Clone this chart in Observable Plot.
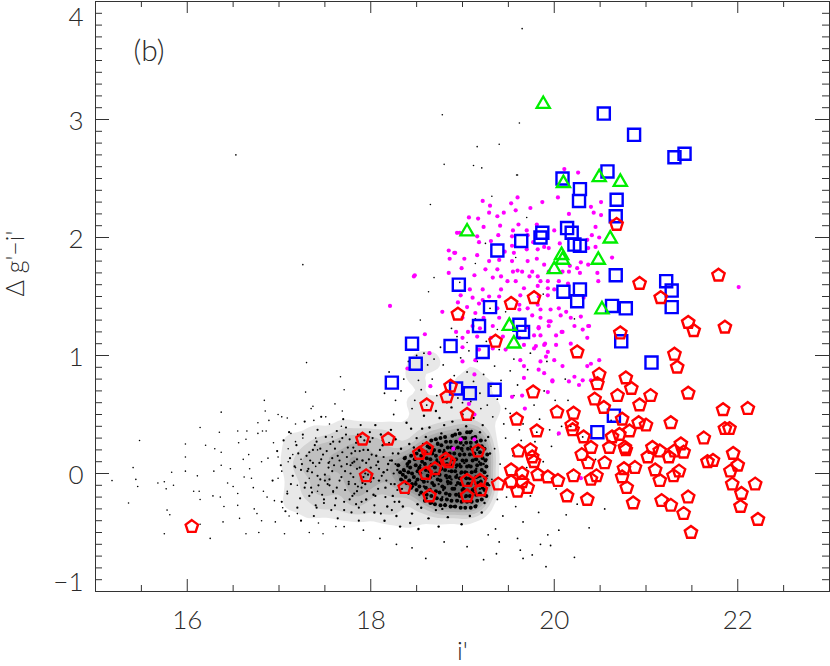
<!DOCTYPE html>
<html><head><meta charset="utf-8">
<script src="https://cdn.jsdelivr.net/npm/d3@7"></script>
<script src="https://cdn.jsdelivr.net/npm/@observablehq/plot@0.6"></script>
<style>
html,body{margin:0;padding:0;background:#fff;}
#chart svg{display:block;}
</style></head><body><div id="chart"></div>
<script>
// ---- axes / labels ----
const xMajor = [16, 18, 20, 22];
const xTickLabels = ["16", "18", "20", "22"];
const yMajor = [-1, 0, 1, 2, 3, 4];
const yTickLabels = ["\u22121", "0", "1", "2", "3", "4"];
const xTitle = "i'";
const yTitle = "\u0394 g'\u2212i'";
const panelLabel = "(b)";

// ---- blue squares ----
const squares = [
[20.54,3.05],[20.87,2.87],[21.31,2.68],[21.42,2.71],[20.09,2.50],[20.58,2.56],[20.28,2.41],[20.27,2.31],
[20.68,2.32],[20.67,2.18],[20.14,2.08],[20.19,2.04],[19.87,2.04],[19.85,2.00],[19.64,1.97],[19.38,1.89],
[20.22,1.94],[20.28,1.93],[20.67,1.68],[18.96,1.60],[20.10,1.54],[20.28,1.56],[20.25,1.46],[20.63,1.42],
[20.78,1.40],[19.30,1.41],[19.18,1.25],[19.62,1.26],[19.66,1.20],[18.45,1.10],[18.87,1.08],[19.22,1.03],
[20.73,1.12],[18.49,0.93],[18.23,0.77],[18.93,0.72],[19.08,0.68],[19.35,0.71],[21.22,1.63],[21.28,1.55],
[21.28,1.41],[21.06,0.94],[20.65,0.49],[20.47,0.35]
];

// ---- green triangles ----
const triangles = [
[19.88,3.13],[20.10,2.46],[20.49,2.51],[20.72,2.47],[19.05,2.05],[20.61,1.99],[20.08,1.85],
[20.09,1.81],[20.00,1.73],[20.48,1.81],[20.52,1.39],[19.51,1.25],[19.56,1.10]
];

// ---- red pentagons ----
const pentagons = [
[16.05,-0.45],[17.91,0.29],[18.19,0.29],[17.95,-0.02],[18.37,-0.12],[18.53,0.17],[18.61,0.21],[18.61,0.58],
[18.70,0.04],[18.60,0.00],[18.64,-0.19],[18.83,0.65],[18.87,0.74],[18.82,0.12],[18.85,0.10],[19.05,0.50],
[19.17,0.19],[19.05,-0.06],[19.19,-0.06],[19.20,-0.14],[19.05,-0.19],[19.39,-0.09],[18.95,1.35],[19.36,1.12],
[19.53,1.44],[19.78,1.49],[19.59,0.46],[19.77,0.69],[19.81,0.36],[19.61,0.19],[19.74,0.20],[19.76,0.14],
[19.78,0.10],[19.53,0.03],[19.65,0.00],[19.53,-0.07],[19.65,-0.07],[19.60,-0.15],[19.71,-0.12],[19.82,-0.01],
[19.93,-0.03],[20.04,-0.06],[20.03,0.52],[20.21,0.51],[20.19,0.41],[20.20,0.37],[20.32,0.31],[20.21,-0.02],
[20.30,0.16],[20.37,0.09],[20.40,0.22],[20.40,-0.05],[20.46,-0.02],[20.14,-0.19],[20.36,-0.22],[20.25,1.03],
[20.49,0.84],[20.47,0.76],[20.44,0.63],[20.54,0.56],[20.69,0.66],[20.78,0.81],[20.84,0.72],[20.72,1.19],
[20.68,2.11],[20.93,1.61],[21.16,1.49],[21.46,1.28],[21.52,1.21],[21.86,1.24],[21.79,1.68],[21.31,1.01],
[21.34,0.90],[21.05,0.66],[20.93,0.58],[21.46,0.68],[20.60,0.22],[20.63,0.31],[20.71,0.33],[20.82,0.36],
[20.74,0.46],[20.92,0.43],[21.00,0.41],[21.27,0.43],[20.77,0.22],[20.78,0.20],[21.07,0.22],[21.15,0.19],
[21.31,0.19],[21.38,0.25],[21.41,0.18],[21.02,0.14],[21.25,0.14],[20.55,0.09],[20.88,0.05],[20.76,0.04],
[20.74,-0.03],[21.10,0.03],[21.36,0.02],[21.30,-0.02],[21.15,-0.06],[20.79,-0.12],[20.86,-0.25],[21.17,-0.23],
[21.27,-0.27],[21.46,-0.20],[21.41,-0.34],[21.49,-0.50],[21.63,0.30],[21.84,0.54],[22.11,0.55],[21.86,0.38],
[21.91,0.38],[21.67,0.10],[21.73,0.11],[21.95,0.17],[22.00,0.07],[21.92,0.02],[21.94,-0.09],[22.04,-0.17],
[22.03,-0.28],[22.19,-0.09],[22.22,-0.39]
];

// ---- magenta points ----
const magentaPts = [
[20.26,2.55],[20.04,2.34],[19.60,2.34],[19.22,2.31],[19.30,2.27],[19.53,2.29],[19.87,2.30],[19.74,2.25],[19.58,2.23],[19.29,2.21],
[19.38,2.18],[19.45,2.21],[19.07,2.17],[19.17,2.16],[20.16,2.20],[20.40,2.26],[20.51,2.30],[20.51,2.19],[20.43,2.21],[20.62,2.14],
[19.41,2.10],[19.61,2.11],[19.81,2.11],[19.70,2.06],[19.55,2.06],[19.23,2.09],[18.97,2.04],[19.16,2.01],[19.39,2.02],[19.54,2.01],
[19.71,2.02],[20.00,2.06],[20.45,2.09],[20.41,2.02],[20.49,2.00],[19.18,1.96],[19.31,1.97],[19.77,1.96],[19.89,1.92],[19.54,1.93],
[20.45,1.92],[20.36,1.98],[18.85,1.89],[18.92,1.87],[19.02,1.82],[18.86,1.82],[19.16,1.85],[19.46,1.88],[19.56,1.87],[19.70,1.90],
[19.82,1.90],[19.94,1.91],[20.06,1.95],[20.37,1.91],[20.63,1.83],[19.29,1.80],[19.54,1.80],[19.40,1.81],[19.71,1.80],[19.81,1.82],
[19.89,1.77],[20.17,1.76],[20.29,1.79],[20.37,1.77],[20.25,1.74],[18.99,1.74],[19.25,1.73],[19.38,1.73],[19.55,1.71],[19.60,1.72],
[19.65,1.71],[19.76,1.71],[19.94,1.71],[20.09,1.71],[20.16,1.71],[20.28,1.70],[20.47,1.70],[18.85,1.70],[18.47,1.67],[19.13,1.68],
[19.42,1.67],[19.73,1.67],[19.82,1.67],[19.33,1.66],[19.49,1.63],[19.58,1.63],[19.85,1.63],[19.93,1.63],[20.05,1.63],[20.15,1.61],
[20.48,1.63],[19.08,1.56],[19.22,1.56],[19.42,1.56],[19.67,1.57],[19.82,1.59],[19.93,1.57],[20.00,1.56],[18.98,1.51],[19.11,1.49],
[19.22,1.47],[19.29,1.50],[19.40,1.50],[19.63,1.51],[19.83,1.50],[19.93,1.51],[20.32,1.49],[18.21,1.42],[18.78,1.37],[18.95,1.45],
[19.05,1.41],[19.18,1.44],[19.38,1.40],[19.62,1.43],[19.71,1.40],[19.82,1.43],[19.85,1.39],[19.96,1.39],[20.05,1.40],[20.13,1.37],
[19.00,1.32],[19.14,1.36],[19.23,1.32],[19.40,1.32],[19.76,1.34],[19.85,1.32],[19.94,1.29],[20.07,1.34],[20.18,1.32],[20.29,1.33],
[19.11,1.25],[19.19,1.23],[19.33,1.25],[19.71,1.24],[19.83,1.24],[19.94,1.25],[20.09,1.20],[20.22,1.25],[20.31,1.22],[20.38,1.25],
[18.59,1.18],[18.93,1.20],[19.06,1.20],[19.00,1.15],[19.16,1.16],[19.31,1.15],[19.44,1.16],[19.62,1.15],[19.78,1.17],[19.85,1.17],
[20.02,1.17],[20.18,1.10],[20.36,1.15],[18.64,1.02],[19.00,1.07],[19.18,1.05],[19.33,1.06],[19.47,1.05],[19.67,1.09],[19.80,1.08],
[19.89,1.09],[20.02,1.09],[19.93,1.03],[19.91,0.99],[18.40,0.89],[19.00,0.95],[19.14,0.96],[19.63,0.96],[19.67,0.91],[19.85,0.95],
[20.00,0.96],[20.09,0.91],[20.40,0.93],[20.49,0.96],[20.36,0.91],[18.65,0.74],[19.13,0.84],[19.67,0.81],[19.83,0.88],[19.89,0.85],
[19.98,0.79],[20.16,0.78],[20.22,0.82],[20.27,0.75],[20.40,0.79],[19.54,0.65],[19.65,0.66],[22.01,1.58],[18.48,1.68],[18.91,1.87],
[18.94,2.04],[20.11,2.58],[19.07,0.59],[19.13,0.50],[18.98,0.29],[19.13,0.29],[18.90,0.21],[19.68,0.55],[19.62,1.39],[19.83,1.23],
[19.96,1.29],[20.08,1.20],[19.90,1.10],[19.78,1.06],[19.98,0.78],[20.31,0.79],[19.93,0.69],[20.05,0.34],[20.29,-0.04],[20.37,1.25]
];

// ---- black points (field stars) ----
const blackLeft = [
[15.18,-0.06],[15.41,0.05],[15.44,-0.05],[15.46,-0.11],[15.36,-0.25],[15.48,0.28],[15.68,-0.08],[15.75,-0.07],[15.77,-0.13],[15.83,0.01],
[15.78,-0.31],[15.81,-0.35],[15.75,-0.51],[15.85,-0.10],[15.98,0.25],[15.98,0.14],[15.98,0.02],[16.07,-0.15],[16.14,0.39],[16.13,-0.15],
[16.14,-0.22],[16.14,-0.43],[16.20,0.24],[16.25,-0.55],[16.30,0.21],[16.37,0.52],[16.35,0.35],[16.37,0.18],[16.37,0.07],[16.11,-0.02],
[16.29,0.02],[16.28,-0.19],[16.36,-0.20],[16.40,-0.28],[16.39,-0.41],[16.47,0.04],[16.44,-0.08],[16.50,-0.11],[16.55,0.36],[16.56,0.26],
[16.55,-0.17],[16.57,-0.38],[16.55,-0.27],[16.61,0.12],[16.62,-0.03],[16.65,0.36],[16.64,0.29],[16.64,-0.51],[16.67,0.16],[16.68,0.04],
[16.70,-0.04],[16.72,-0.12],[16.73,-0.30],[16.76,-0.34],[16.77,0.43],[16.77,0.34],[16.78,-0.50],[16.81,-0.40],[16.84,0.62],[16.85,0.53],
[16.82,0.36],[16.81,0.10],[16.83,-0.15],[16.87,-0.20],[16.89,0.45],[16.86,0.36],[16.88,0.13],[16.94,0.26],[16.95,-0.23],[16.96,-0.41],
[16.99,0.50],[17.03,0.48],[16.99,0.14],[16.99,-0.04],[17.03,0.02],[17.04,-0.29],[17.06,-0.51],[17.09,0.47],[17.10,0.21],[17.10,0.10],
[17.09,-0.15],[17.11,-0.36],[17.13,0.34],[17.15,0.16],[17.18,0.42],[17.18,0.27],[17.18,0.05],[17.20,-0.10],[17.20,-0.34],[17.24,0.12],
[17.26,0.30],[17.29,0.69],[17.30,0.94],[17.33,-0.04],[17.33,-0.50],[17.37,0.57],[17.35,0.55],[17.38,0.45],[17.40,0.30],[17.42,0.20],
[17.40,0.06],[17.42,-0.15],[17.43,-0.42],[17.48,-0.51],[17.51,0.48],[17.55,0.42],[17.58,0.31],[17.55,0.10],[17.59,-0.16],[17.61,0.59],
[17.62,-0.45],[17.67,0.82],[17.68,0.40],[17.69,0.53],[17.71,0.71]
];
const blackMid = [
[17.02,0.07],[17.35,-0.12],[17.61,0.21],[17.15,-0.02],[17.48,0.16],[17.83,-0.09],[17.26,0.33],[17.71,-0.24],[17.09,-0.17],[17.54,0.05],
[17.88,0.19],[17.40,-0.27],[17.19,0.24],[17.66,0.11],[17.31,0.02],[17.77,0.29],[17.45,-0.05],[17.05,0.28],[17.59,-0.15],[17.85,0.04],
[17.23,-0.21],[17.68,-0.03],[17.37,0.20],[17.12,0.13],[17.80,-0.19],[17.51,0.31],[17.29,-0.08],[17.74,0.14],[17.44,0.09],[17.90,-0.12],
[17.57,-0.31],[17.17,0.06],[17.63,0.36],[17.34,0.11],[17.86,0.33],[17.47,-0.18],[17.20,-0.29],[17.72,0.02],[17.53,-0.09],[17.81,0.22],
[16.93,-0.06],[16.98,0.19],[17.07,-0.32],[17.28,0.44],[17.42,0.37],[17.64,-0.38],[17.79,-0.33],[17.89,0.41],[17.56,0.25],[17.38,-0.36],
[17.13,-0.09],[17.25,0.08],[17.50,-0.01],[17.69,0.18],[17.84,-0.26],[17.41,0.27],[17.60,0.07],[17.76,-0.07],[17.33,-0.19],[17.92,-0.03],
[17.11,0.35],[17.46,0.48],[17.70,0.46],[17.87,-0.40],[17.24,-0.40],[17.66,0.27],[17.49,-0.25],[17.82,0.10],[17.58,0.13],[17.36,0.01],
[17.73,0.39],[17.21,0.17],[17.03,-0.24],[17.93,0.28],[17.62,-0.21],[17.43,-0.10],[17.78,0.07],[17.30,0.15],[17.55,-0.05],[17.85,-0.15],
[17.32,0.04],[17.36,-0.16],[17.39,0.24],[17.42,-0.02],[17.46,0.12],[17.49,-0.22],[17.52,0.19],[17.55,-0.10],[17.58,0.02],[17.61,-0.27],
[17.64,0.15],[17.66,-0.06],[17.69,0.30],[17.72,-0.14],[17.74,0.08],[17.77,-0.22],[17.79,0.17],[17.81,-0.03],[17.84,0.26],[17.86,-0.11],
[17.88,0.05],[17.90,-0.24],[17.92,0.20],[17.94,0.00],[17.96,-0.15],[17.98,0.12],[18.00,-0.07],[18.02,0.30],[18.04,-0.27],[18.06,0.07],
[18.08,-0.13],[18.10,0.20],[18.12,-0.02],[18.14,0.14],[18.16,-0.20],[18.18,0.03],[18.20,0.26],[18.22,-0.09],[18.24,0.17],[18.26,-0.24],
[18.27,0.08],[18.29,-0.14],[18.25,0.00],[18.21,0.11],[18.17,-0.06],[18.13,0.28],[18.09,0.04],[18.05,-0.19],[18.01,0.16],[17.97,-0.01],
[17.93,-0.33],[17.89,0.31],[17.85,0.12],[17.82,-0.17],[17.78,0.00],[17.75,0.22],[17.71,-0.31],[17.68,0.06],[17.63,-0.12],[17.59,0.27],
[17.54,0.09],[17.50,-0.06],[17.45,0.21],[17.41,-0.29],[17.37,0.09],[17.33,0.18],[17.28,-0.12],[17.24,0.03],[18.23,-0.31],[18.19,0.34],
[18.11,-0.34],[18.03,-0.04],[17.99,0.35],[17.95,0.09],[17.91,-0.08],[17.87,-0.29],[17.83,0.19],[17.80,0.09],[17.76,-0.09],[17.73,0.33]
];
const blackCore = [
[18.23,0.11],[18.41,-0.17],[18.27,0.29],[18.52,0.04],[18.36,-0.06],[18.47,0.22],[18.31,-0.24],[18.58,-0.11],[18.62,0.17],[18.44,0.38],
[18.69,-0.02],[18.55,-0.29],[18.73,0.26],[18.66,0.08],[18.79,-0.14],[18.83,0.13],[18.61,-0.21],[18.77,0.34],[18.88,-0.05],[18.71,-0.31],
[18.92,0.21],[18.85,0.02],[18.96,-0.17],[18.81,-0.26],[19.02,0.09],[18.99,0.29],[19.06,-0.08],[18.94,-0.01],[19.11,0.16],[19.08,-0.24],
[19.15,0.04],[19.19,-0.13],[19.13,0.31],[19.22,0.22],[19.17,-0.03],[19.24,-0.19],[19.04,0.40],[18.89,0.44],[18.75,0.47],[18.64,0.39],
[18.29,0.03],[18.38,0.14],[18.34,-0.13],[18.49,-0.07],[18.57,0.25],[18.45,-0.34],[18.63,-0.04],[18.68,0.19],[18.74,-0.09],[18.82,0.06],
[18.86,-0.19],[18.91,0.10],[18.97,0.15],[19.01,-0.12],[19.05,0.01],[19.09,0.23],[19.12,-0.16],[19.18,0.10],[19.21,0.03],[19.26,0.12],
[18.26,-0.09],[18.33,0.21],[18.40,0.06],[18.48,0.12],[18.53,-0.18],[18.59,0.09],[18.65,-0.13],[18.70,0.29],[18.76,0.03],[18.80,0.20],
[18.84,-0.09],[18.87,0.27],[18.90,-0.13],[18.93,0.05],[18.95,-0.23],[18.98,0.00],[19.00,0.19],[19.03,-0.20],[19.07,0.07],[19.10,-0.04],
[19.14,-0.09],[19.16,0.20],[19.20,-0.06],[19.23,0.08],[19.27,-0.02],[19.25,0.28],[19.19,0.35],[19.10,0.36],[18.95,0.37],[18.80,0.41],
[18.60,0.31],[18.50,0.30],[18.42,0.25],[18.35,-0.28],[18.51,-0.26],[18.67,-0.25],[18.78,-0.30],[18.90,-0.28],[19.03,-0.29],[19.15,-0.27],
[18.56,0.15],[18.72,0.12],[18.86,0.15],[19.01,0.24],[18.62,-0.07],[18.78,-0.20],[18.93,-0.10],[19.06,-0.14],[19.13,0.12],[18.97,0.08],
[18.83,-0.04],[18.69,0.05],[18.54,0.07],[18.46,-0.11],[18.37,0.02],[18.30,0.17],[18.24,-0.19],[18.19,0.08],[18.16,-0.12],[18.13,0.24],
[18.09,-0.06],[18.06,0.15],[18.03,-0.18],[18.00,0.05],[17.97,0.20],[17.94,-0.09],[17.91,0.11],[18.11,0.33],[18.04,-0.33],[18.18,-0.28],
[18.22,0.37],[18.14,0.01],[18.08,0.10],[18.01,-0.01],[17.95,-0.22],[17.99,0.27],[18.05,0.41],[18.15,-0.40],[18.28,-0.36],[18.39,0.43],
[18.58,0.49],[18.71,0.53],[18.88,0.56],[19.00,0.50],[19.12,0.47],[19.22,0.41],[18.43,-0.42],[18.63,-0.38],[18.84,-0.37],[19.08,-0.36],
[19.29,-0.10],[19.30,0.17],[19.28,0.31],[19.24,-0.25],[19.21,-0.33],[18.99,-0.43],[18.74,-0.45],[18.52,-0.47],[18.32,-0.45],[18.56,0.38]
];
// the crowded nucleus of the cluster
const blackNucleus = [
[18.33,-0.05],[18.32,0.01],[18.30,0.07],[18.35,-0.01],
[18.39,-0.08],[18.38,-0.03],[18.36,0.03],[18.40,0.08],[18.37,0.13],[18.41,0.01],
[18.44,-0.12],[18.42,-0.06],[18.45,0.00],[18.43,0.05],[18.42,0.10],[18.44,0.15],[18.45,-0.09],
[18.50,-0.14],[18.49,-0.09],[18.47,-0.03],[18.51,0.02],[18.49,0.07],[18.48,0.12],[18.50,0.17],[18.51,-0.05],
[18.55,-0.16],[18.53,-0.11],[18.56,-0.05],[18.54,0.00],[18.53,0.05],[18.56,0.10],[18.55,0.15],[18.53,0.20],
[18.59,-0.23],[18.61,-0.18],[18.60,-0.12],[18.58,-0.07],[18.62,-0.02],[18.60,0.03],[18.59,0.08],[18.61,0.13],[18.60,0.18],[18.62,0.23],
[18.65,-0.25],[18.66,-0.19],[18.64,-0.14],[18.67,-0.08],[18.65,-0.03],[18.64,0.02],[18.66,0.07],[18.65,0.12],[18.67,0.17],[18.64,0.22],[18.66,0.28],
[18.70,-0.26],[18.72,-0.21],[18.71,-0.15],[18.69,-0.10],[18.73,-0.05],[18.71,0.00],[18.70,0.05],[18.72,0.10],[18.71,0.15],[18.69,0.20],[18.73,0.25],[18.71,0.29],
[18.76,-0.27],[18.77,-0.22],[18.75,-0.16],[18.78,-0.11],[18.76,-0.06],[18.75,-0.01],[18.77,0.04],[18.76,0.09],[18.78,0.14],[18.75,0.19],[18.77,0.24],[18.76,0.30],
[18.81,-0.27],[18.83,-0.22],[18.82,-0.17],[18.80,-0.12],[18.84,-0.07],[18.82,-0.02],[18.81,0.03],[18.83,0.08],[18.82,0.13],[18.80,0.18],[18.84,0.22],[18.82,0.27],[18.81,0.31],
[18.87,-0.28],[18.88,-0.23],[18.86,-0.18],[18.89,-0.13],[18.87,-0.08],[18.86,-0.03],[18.88,0.02],[18.87,0.07],[18.89,0.12],[18.86,0.17],[18.88,0.22],[18.87,0.27],[18.89,0.32],
[18.92,-0.28],[18.94,-0.23],[18.93,-0.18],[18.91,-0.13],[18.95,-0.08],[18.93,-0.03],[18.92,0.02],[18.94,0.07],[18.93,0.12],[18.91,0.17],[18.95,0.22],[18.93,0.27],[18.92,0.33],
[18.98,-0.29],[18.99,-0.24],[18.97,-0.19],[19.00,-0.14],[18.98,-0.09],[18.97,-0.04],[18.99,0.01],[18.98,0.06],[19.00,0.11],[18.97,0.16],[18.99,0.21],[18.98,0.26],[19.00,0.30],[18.97,0.34],
[19.03,-0.29],[19.05,-0.24],[19.04,-0.19],[19.02,-0.14],[19.06,-0.09],[19.04,-0.04],[19.03,0.01],[19.05,0.06],[19.04,0.11],[19.02,0.16],[19.06,0.21],[19.04,0.26],[19.03,0.30],[19.05,0.35],
[19.09,-0.29],[19.10,-0.24],[19.08,-0.19],[19.11,-0.14],[19.09,-0.09],[19.08,-0.04],[19.10,0.01],[19.09,0.06],[19.11,0.11],[19.08,0.16],[19.10,0.21],[19.09,0.26],[19.11,0.30],[19.08,0.35],
[19.14,-0.28],[19.16,-0.23],[19.15,-0.18],[19.13,-0.13],[19.17,-0.08],[19.15,-0.03],[19.14,0.02],[19.16,0.07],[19.15,0.12],[19.13,0.17],[19.17,0.22],[19.15,0.27],[19.14,0.31],
[19.21,-0.22],[19.19,-0.17],[19.22,-0.12],[19.20,-0.07],[19.19,-0.02],[19.21,0.03],[19.20,0.08],[19.22,0.13],[19.19,0.18],[19.21,0.23],[19.20,0.28],
[19.26,-0.19],[19.24,-0.14],[19.27,-0.09],[19.25,-0.04],[19.24,0.01],[19.26,0.06],[19.25,0.11],[19.27,0.16],[19.24,0.21]
];
const blackPlume = [
[18.48,0.62],[18.55,0.71],[18.61,0.58],[18.67,0.80],[18.72,0.66],[18.79,0.92],[18.83,0.60],[18.86,0.75],[18.91,0.83],[18.95,0.64],
[18.98,0.98],[19.02,0.72],[19.05,0.86],[19.09,0.61],[19.12,0.78],[19.16,0.95],[19.19,0.68],[19.23,0.84],[19.27,0.58],[19.31,0.74],
[19.35,0.91],[19.38,0.63],[19.42,0.79],[19.47,0.55],[18.44,0.88],[18.58,1.02],[18.76,1.07],[18.94,1.16],[19.07,1.04],[19.26,1.12],
[19.40,1.05],[19.52,0.87],[19.56,0.66],[19.33,0.48],[19.45,0.42],[18.69,0.97],[18.88,1.23],[19.14,1.31],[19.30,1.40],[18.52,0.79],
[19.00,0.60],[19.20,0.55],[18.20,0.86],[18.33,0.70],[18.41,0.95],[18.27,0.62],[18.50,1.00],[18.36,0.80],[18.15,0.68],[18.62,0.92],
[18.45,0.55],[18.25,0.50]
];
const blackRight = [
[19.32,-0.05],[19.35,0.21],[19.38,-0.22],[19.41,0.08],[19.44,-0.36],[19.47,0.30],[19.36,-0.47],[19.52,-0.12],[19.55,0.15],[19.58,-0.28],
[19.62,0.37],[19.66,-0.41],[19.70,0.05],[19.74,-0.19],[19.79,0.27],[19.83,-0.33],[19.88,0.10],[19.93,-0.52],[19.97,0.23],[20.02,-0.13],
[20.08,0.40],[20.13,-0.35],[20.19,0.02],[20.25,-0.26],[20.31,0.31],[20.38,-0.46],[19.40,-0.58],[19.60,-0.55],[19.85,-0.60],[20.05,-0.48],
[18.45,-0.63],[18.60,-0.72],[19.23,-0.73],[19.37,-0.68],[19.63,-0.65],[19.66,-0.72],[19.76,-0.69],[19.96,-0.61],[19.91,-0.79],[20.22,-0.71],
[17.71,-0.45],[17.92,-0.48],[18.10,-0.55],[18.28,-0.60],[18.80,-0.58],[19.05,-0.62],[19.28,-0.52],[20.45,0.12],[20.55,-0.30],[20.62,0.45],
[19.48,-0.20],[19.52,0.51],[19.60,0.75],[19.66,0.42],[19.71,0.88],[19.78,0.58],[19.84,0.46],[19.89,0.70],[19.95,0.37],[20.01,0.62],
[20.07,0.48],[20.12,0.80],[20.18,0.40],[19.56,0.97],[19.74,1.02],[19.92,0.95],[20.04,0.33],[19.64,0.28],[19.81,0.35],[19.98,0.55],
[20.15,0.62]
];
const blackUpper = [
[16.53,2.70],[17.26,1.77],[18.78,3.04],[19.65,3.77],[19.62,2.97],[19.16,2.77],[19.40,2.79],[18.80,2.62],[19.12,2.61],[19.21,2.59],
[19.59,2.53],[19.32,2.35],[18.65,2.28],[18.69,1.66],[18.63,1.54],[18.54,1.30],[19.14,1.78],[19.60,2.53],[18.97,1.62],[19.25,1.95],
[19.47,1.37],[19.70,2.17],[19.88,1.52],[20.10,1.88],[19.05,1.11],[19.38,1.22],[20.22,1.31],[19.58,1.83]
];
const blackCrowd = [...blackMid, ...blackCore, ...blackNucleus, ...blackPlume];

// ---- build ----
const yMinor = d3.range(-10, 41).map(v => v / 10).filter(v => !yMajor.includes(v));
const xMinor = d3.range(30, 47).map(v => v / 2).filter(v => !xMajor.includes(v));

const pentagon = {
  draw(ctx, size) {
    const R = Math.sqrt(size / Math.PI);
    for (let i = 0; i < 5; i++) {
      const a = -Math.PI / 2 + i * 2 * Math.PI / 5;
      const px = R * Math.cos(a), py = R * Math.sin(a);
      if (i === 0) ctx.moveTo(px, py); else ctx.lineTo(px, py);
    }
    ctx.closePath();
  }
};

const FW = 734, FH = 590; // frame size in px (for tick insets)
const axisColor = "#333";
const txt = {fill: "#2a2a2a", fontSize: 26, fontWeight: 300};
const X = d => d[0], Y = d => d[1];
const blk = (data, r) => Plot.dot(data, {x: X, y: Y, r, fill: "#000", stroke: "none"});
const yLab = (vals, dy) => Plot.text(vals, {y: d => d, text: d => yTickLabels[yMajor.indexOf(d)], frameAnchor: "left", textAnchor: "end", dx: -12, dy, lineAnchor: "middle", ...txt});

const chart = Plot.plot({
  width: 830,
  height: 666,
  marginLeft: 95,
  marginRight: 1,
  marginTop: 1,
  marginBottom: 75,
  x: {domain: [15, 23], axis: null},
  y: {domain: [-1, 4], axis: null},
  style: {background: "white", fontFamily: "Lato, 'DejaVu Sans', sans-serif"},
  marks: [
    Plot.density(blackCrowd, {x: X, y: Y, fill: "#000", fillOpacity: 0.09, stroke: "none", bandwidth: 6, thresholds: 10}),
    blk(blackLeft, 0.8),
    blk(blackUpper, 0.8),
    blk(blackRight, 0.9),
    blk(blackPlume, 0.9),
    blk(blackMid, 1.1),
    blk(blackCore, 1.2),
    blk(blackNucleus, 2.0),
    Plot.dot(magentaPts, {x: X, y: Y, r: 2.1, fill: "#ff00ff", stroke: "none"}),
    Plot.dot(squares, {x: X, y: Y, symbol: "square", r: 6.8, fill: "none", stroke: "#0000ff", strokeWidth: 2.4}),
    Plot.dot(triangles, {x: X, y: Y, symbol: "triangle", r: 4.9, fill: "none", stroke: "#00ee00", strokeWidth: 2.3}),
    Plot.dot(pentagons, {x: X, y: Y, symbol: pentagon, r: 6.5, fill: "none", stroke: "#ff0000", strokeWidth: 2.4}),
    // frame and inward ticks
    Plot.frame({stroke: axisColor}),
    Plot.tickX(xMajor, {x: d => d, insetTop: FH - 12, stroke: axisColor}),
    Plot.tickX(xMinor, {x: d => d, insetTop: FH - 6, stroke: axisColor}),
    Plot.tickX(xMajor, {x: d => d, insetBottom: FH - 12, stroke: axisColor}),
    Plot.tickX(xMinor, {x: d => d, insetBottom: FH - 6, stroke: axisColor}),
    Plot.tickY(yMajor, {y: d => d, insetRight: FW - 14, stroke: axisColor}),
    Plot.tickY(yMinor, {y: d => d, insetRight: FW - 7, stroke: axisColor}),
    Plot.tickY(yMajor, {y: d => d, insetLeft: FW - 14, stroke: axisColor}),
    Plot.tickY(yMinor, {y: d => d, insetLeft: FW - 7, stroke: axisColor}),
    // tick labels
    Plot.text(xMajor, {x: d => d, text: (d, i) => xTickLabels[i], frameAnchor: "bottom", dy: 29, lineAnchor: "middle", ...txt}),
    yLab([0, 1, 2, 3], 2),
    yLab([4], 16),
    yLab([-1], -9),
    // titles
    Plot.text([xTitle], {frameAnchor: "bottom", dy: 60, lineAnchor: "middle", ...txt}),
    Plot.text([yTitle], {frameAnchor: "left", dx: -80, rotate: -90, lineAnchor: "middle", ...txt, fontSize: 25}),
    Plot.text([panelLabel], {frameAnchor: "top-left", dx: 38, dy: 50, lineAnchor: "middle", ...txt, fontSize: 30})
  ]
});
document.getElementById("chart").appendChild(chart);
</script></body></html>
